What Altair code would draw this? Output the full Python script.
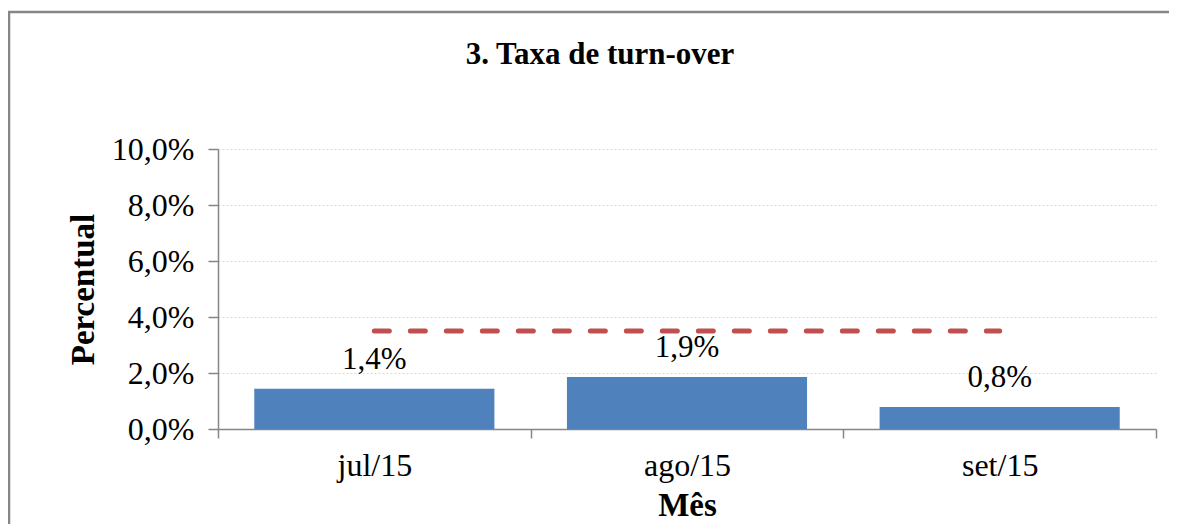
import altair as alt
import pandas as pd

months = ["jul/15", "ago/15", "set/15"]
turnover = [1.44, 1.86, 0.79]
meta = [3.5, 3.5, 3.5]
y_ticks = [0, 2, 4, 6, 8, 10]

df = pd.DataFrame({"mes": months, "taxa": turnover, "meta": meta})

FONT = "Liberation Serif"
W, H = 938, 280

x_enc = alt.X(
    "mes:N",
    sort=months,
    scale=alt.Scale(paddingInner=0, paddingOuter=0),
    axis=alt.Axis(
        title="Mês",
        labelAngle=0,
        tickBand="extent",
        tickSize=9,
        labelPadding=37,
        labelBaseline="alphabetic",
        labelFont=FONT,
        labelFontSize=32,
        labelColor="#000000",
        titleFont=FONT,
        titleFontSize=33,
        titleFontWeight="bold",
        titleColor="#000000",
        titleBaseline="alphabetic",
        titleY=86,
        grid=False,
    ),
)

y_scale = alt.Scale(domain=[0, 10])
y_axis = alt.Axis(
    title="Percentual",
    values=y_ticks,
    labelExpr="replace(format(datum.value, '.1f'), '.', ',') + '%'",
    tickSize=10,
    labelPadding=14,
    labelFont=FONT,
    labelFontSize=32,
    labelColor="#000000",
    titleFont=FONT,
    titleFontSize=33,
    titleFontWeight="bold",
    titleColor="#000000",
    titleAngle=-90,
    titleBaseline="alphabetic",
    titleX=-125,
    titleY=140,
    grid=True,
    gridColor="#D9D9D9",
    gridDash=[2, 2],
)

base = alt.Chart(df)

border = alt.Chart(pd.DataFrame({"a": [0]})).mark_rect(
    fill="transparent", stroke="#868686", strokeWidth=2.5
).encode(
    x=alt.value(-209), x2=alt.value(1400), y=alt.value(-137), y2=alt.value(800)
)

bars = base.mark_bar(color="#4F81BD", width=alt.RelativeBandSize(0.768)).encode(
    x=x_enc,
    y=alt.Y("taxa:Q", scale=y_scale, axis=y_axis),
)

labels = base.mark_text(
    font=FONT, fontSize=31, color="#000000", baseline="alphabetic", dy=-20
).encode(
    x=alt.X("mes:N", sort=months),
    y=alt.Y("taxa:Q", scale=y_scale),
    text=alt.Text("label:N"),
).transform_calculate(
    label="replace(format(datum.taxa, '.1f'), '.', ',') + '%'"
)

line = base.mark_line(
    color="#C0504D", strokeWidth=5, strokeDash=[15, 21], strokeCap="round"
).encode(
    x=alt.X("mes:N", sort=months),
    y=alt.Y("meta:Q", scale=y_scale),
)

chart = alt.layer(border, bars, line, labels).properties(
    width=W,
    height=H,
    autosize=alt.AutoSizeParams(type="none"),
    padding={"left": 210, "top": 141, "right": 13, "bottom": 95},
    title=alt.TitleParams(
        "3. Taxa de turn-over",
        font=FONT,
        fontSize=31,
        fontWeight="bold",
        color="#000000",
        anchor="middle",
        frame="group",
        dx=-87,
        baseline="alphabetic",
        offset=0,
        dy=84,
    ),
).configure_view(stroke=None).configure_axis(
    domainColor="#868686", tickColor="#868686", domainWidth=1.5, tickWidth=1.5
)

chart.save("out.html", embed_options={"renderer": "svg", "actions": False})
